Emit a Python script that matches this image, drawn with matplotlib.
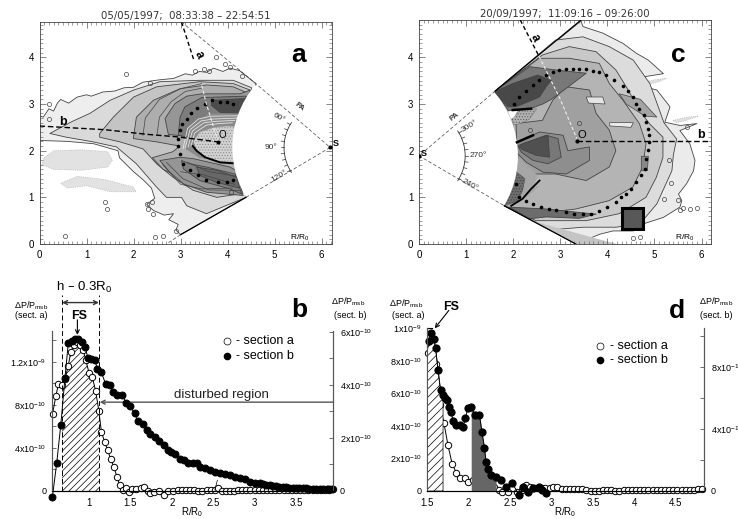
import numpy as np
import matplotlib
matplotlib.use("Agg")
import matplotlib.pyplot as plt
from matplotlib.patches import Polygon, Wedge, Rectangle
from matplotlib.ticker import MultipleLocator

plt.rcParams['font.family'] = ['Liberation Sans', 'DejaVu Sans']
plt.rcParams['mathtext.default'] = 'regular'
plt.rcParams['hatch.linewidth'] = 0.5

# panel a: nested levels, light to dark (R/R0, R/R0)
a_level1 = [(0, 2.75), (.08, 2.72), (.2, 2.9), (.3, 2.85), (.38, 3.02), (.45, 3.1), (.62, 3.02), (.8, 3.15), (1, 3.2), (1.1, 3.17),
            (1.35, 3.26), (1.6, 3.28), (1.8, 3.35), (2.0, 3.36), (2.2, 3.47), (2.55, 3.52), (2.85, 3.55), (3.1, 3.65), (3.25, 3.62),
            (3.4, 3.7), (3.55, 3.68), (3.7, 3.77), (3.9, 3.7), (4.05, 3.77), (4.25, 3.72), (4.6, 3.44),
            (4.39, 1.0), (3.0, .2), (2.9, .3), (2.95, .42), (2.75, .52), (2.85, .65), (2.65, .62), (2.42, .72), (2.28, .85), (2.45, .98),
            (2.38, 1.2), (2.2, 1.38), (2.0, 1.55), (1.7, 1.85), (1.67, 2.0), (1.15, 2.15), (.6, 2.2), (0, 2.22)]
a_level2 = [(.22, 2.37), (.68, 2.62), (1.07, 2.8), (1.5, 3.08), (2.0, 3.3), (2.56, 3.48), (3.41, 3.51), (4.12, 3.51),
            (4.51, 3.35), (4.39, 1.0), (3.55, .65), (3.13, .82), (3.02, 1.0), (2.7, 1.0), (2.49, 1.22), (2.06, 1.72),
            (1.64, 2.08), (1.14, 2.19), (.57, 2.29)]
a_level3 = [(1.28, 2.37), (1.57, 2.72), (2.0, 3.15), (2.49, 3.37), (3.41, 3.48), (4.12, 3.44), (4.48, 3.3), (4.3, 1.08),
            (3.77, 1.0), (3.27, 1.15), (2.84, 1.43), (2.49, 1.72), (2.2, 2.04), (1.71, 2.19), (1.28, 2.29)]
a_level4 = [(2.0, 2.29), (2.06, 2.72), (2.42, 3.08), (2.99, 3.33), (3.55, 3.41), (4.12, 3.37), (4.44, 3.23), (4.23, 1.15),
            (3.55, 1.22), (3.13, 1.36), (2.63, 1.6), (2.4, 1.85), (2.84, 1.98), (2.98, 2.1), (2.49, 2.19), (2, 2.26)]
a_level5_up = [(2.74, 2.35), (2.67, 2.69), (2.88, 3.01), (3.13, 3.17), (3.45, 3.22), (4.26, 3.22), (4.48, 3.3), (4.3, 2.3), (3.2, 2.3)]
a_level5_low = [(2.56, 1.79), (2.99, 1.86), (3.27, 1.83), (4.05, 1.65), (4.19, 1.57), (4.33, 1.04), (3.55, 1.11), (3.06, 1.29), (2.77, 1.54)]
a_level6_up = [(2.95, 2.33), (2.99, 2.72), (3.09, 2.94), (3.45, 3.14), (4.4, 3.17), (4.23, 2.58), (3.84, 2.65), (3.59, 2.72), (3.34, 2.5), (3.16, 2.29)]
a_level6_low = [(3.02, 1.79), (3.2, 1.72), (3.55, 1.65), (4.16, 1.5), (4.3, 1.07), (4.05, 1.18), (3.41, 1.36), (3.06, 1.61)]
a_dark_up = [(3.66, 3.08), (4.4, 3.12), (4.25, 2.8), (3.84, 2.82), (3.66, 2.97)]
a_dark_low = [(3.34, 1.65), (3.77, 1.58), (4.2, 1.43), (4.25, 1.2), (3.77, 1.32), (3.41, 1.47)]
a_core = [(3.27, 2.2), (3.4, 2.4), (3.7, 2.5), (3.98, 2.53), (4.2, 2.52), (4.3, 2.5), (4.3, 1.72), (3.84, 1.75), (3.52, 1.86), (3.34, 2.0)]
a_wind1 = [(.1, 1.85), (.3, 2.0), (.9, 2.02), (1.45, 1.98), (1.55, 1.8), (1.45, 1.65), (.9, 1.58), (.3, 1.6), (.05, 1.7)]
a_wind2 = [(.45, 1.3), (.8, 1.45), (1.4, 1.38), (2.0, 1.22), (2.05, 1.12), (1.5, 1.12), (1.0, 1.25), (.6, 1.2)]
a_ring_x = [[3.22, 3.3, 3.55, 3.8, 4.1], [3.16, 3.25, 3.5, 3.75, 4.15], [3.1, 3.2, 3.44, 3.7, 4.2], [3.05, 3.15, 3.38, 3.64, 4.25]]
a_ring_y = [[2.1, 2.38, 2.55, 2.58, 2.6], [2.08, 2.42, 2.6, 2.63, 2.65], [2.06, 2.45, 2.64, 2.68, 2.7], [2.04, 2.48, 2.68, 2.74, 2.75]]
a_extra_x = [[2.2, 2.25, 2.55, 3.0, 3.45], [2.5, 2.55, 2.8, 3.1, 3.45], [2.62, 3.0, 3.45, 4.1], [3.0, 3.5, 4.15], [2.7, 3.05, 3.6, 4.27], [3.15, 3.6, 4.22]]
a_extra_y = [[2.33, 2.7, 3.1, 3.33, 3.44], [2.35, 2.72, 3.05, 3.27, 3.34], [1.7, 1.28, 1.18, 1.2], [1.55, 1.48, 1.28], [1.75, 1.4, 1.16, 1.15], [1.75, 1.55, 1.45]]
a_front_x = [4.12, 3.98, 3.84, 3.66, 3.52, 3.34, 3.23, 3.13, 3.02, 2.99, 2.95, 2.95, 2.99, 3.06, 3.2, 3.38, 3.55, 3.8, 3.98, 4.12]
a_front_y = [3.01, 3.05, 3.05, 3.08, 3.0, 2.92, 2.8, 2.69, 2.57, 2.44, 2.26, 2.11, 1.92, 1.72, 1.58, 1.47, 1.38, 1.33, 1.33, 1.38]
a_islands_x = [.2, 1.85, 2.35, 2.45, 2.62, 2.9, 2.3, 2.4, 1.4, 1.43, .55, .2, 3.3, 3.5, 3.6, 3.75, 3.95, 4.05, 4.08, 4.3, 2.28, 2.42]
a_islands_y = [2.68, 3.65, 3.45, .14, .18, .28, .75, .9, .9, .75, .18, 3.0, 3.72, 3.75, 3.72, 4.0, 3.85, 3.8, 1.11, 3.6, .85, .65]

# panel c levels
c_level1 = [(3.44, 4.78), (3.48, 4.66), (3.9, 4.52), (4.33, 4.3), (4.61, 4.09), (4.87, 3.94), (5.19, 3.65), (4.76, 3.58), (4.66, 3.4),
            (5.05, 3.3), (5.33, 2.94), (5.22, 2.61), (5.54, 2.54), (5.9, 2.58), (5.54, 2.43), (5.75, 2.15), (5.86, 1.79), (5.83, 1.57),
            (5.68, 1.29), (5.51, 1.07), (5.58, .93), (5.54, .79), (5.19, .57), (4.76, .43), (4.55, .28), (4.12, .28), (3.84, .21), (3.33, 0),
            (1.81, .82), (1.62, 3.28)]
c_level2 = [(2.9, 4.37), (3.48, 4.44), (4.04, 4.23), (4.55, 3.94), (4.9, 3.44), (5.08, 2.94), (5.2, 2.6), (5.47, 2.25), (5.4, 1.9), (5.37, 1.57),
            (5.05, .86), (4.69, .43), (4.18, .36), (3.48, .36), (2.77, .3), (1.81, .82), (1.62, 3.28)]
c_level3 = [(2.62, 4.05), (3.19, 4.23), (3.76, 4.12), (4.18, 3.73), (4.4, 3.37), (4.68, 2.87), (4.89, 2.58), (5.18, 2.29),
            (5.18, 1.86), (5.04, 1.43), (4.82, 1.0), (4.25, .65), (3.55, .5), (2.48, .5), (1.99, .75), (1.81, .82), (1.62, 3.28)]
c_level4 = [(2.55, 3.98), (3.19, 3.98), (3.83, 3.87), (4.04, 3.44), (4.33, 3.08), (4.68, 2.58), (4.82, 2.15), (4.75, 1.65),
            (4.54, 1.22), (4.04, .93), (3.33, .75), (2.48, .65), (1.99, .75), (1.81, .82), (1.62, 3.28)]
c_level5 = [(2.06, 2.58), (2.62, 2.65), (2.84, 3.08), (3.12, 3.37), (3.62, 3.3), (3.76, 2.8), (4.04, 2.44), (4.18, 2.0),
            (4.04, 1.65), (3.55, 1.36), (2.9, 1.5), (2.48, 1.5), (2.13, 1.65), (2.08, 2.0)]
c_mid_up = [(1.62, 3.28), (2.35, 3.8), (2.98, 3.72), (3.55, 3.66), (3.12, 3.33), (2.81, 3.1), (2.63, 3.0), (2.28, 2.87), (1.9, 2.85)]
c_dark_up = [(1.6, 3.26), (1.99, 3.44), (2.52, 3.62), (2.81, 3.51), (2.7, 3.37), (2.56, 3.15), (2.06, 2.94), (1.89, 2.94)]
c_mid_center3 = [(2.06, 2.18), (2.56, 2.4), (3.06, 2.33), (3.16, 2.0), (3.62, 2.08), (3.62, 1.79), (3.13, 1.5), (2.63, 1.54), (2.28, 1.75), (2.06, 1.97)]
c_mid_center2 = [(2.1, 2.11), (2.7, 2.33), (2.95, 2.26), (3.02, 1.86), (2.74, 1.72), (2.42, 1.79), (2.17, 1.97)]
c_dark_center = [(2.13, 2.08), (2.2, 2.15), (2.74, 2.33), (2.77, 1.86), (2.49, 1.9), (2.2, 2.02)]
c_dark_low = [(1.92, .79), (2.7, .75), (3.76, .64), (3.4, .55), (2.7, .58), (2.35, .54)]
c_ellipse1 = [(4.25, 3.22), (4.7, 3.1), (5.05, 2.72), (4.8, 2.74), (4.4, 3.0)]
c_ellipse2 = [(4.05, 2.6), (4.55, 2.6), (4.5, 2.5), (4.05, 2.53)]
c_ellipse3 = [(4.72, 1.88), (4.87, 1.88), (4.85, 1.57), (4.72, 1.57)]
c_ellipse4 = [(3.55, 3.15), (3.9, 3.15), (3.95, 3.0), (3.6, 3.02)]
c_fan = [(2.35, .51), (3.9, .08), (4.2, 0), (3.33, 0)]
c_wave_out = [(2.06, 1.9), (2.42, 1.57), (2.52, 1.47), (2.42, 1.22), (2.56, 1.25), (2.2, .93), (1.96, .82), (1.81, .82)]
c_wave_in = [(2.06, 1.55), (2.25, 1.4), (2.2, 1.15), (2.1, .92), (1.81, .82)]
c_notch_x = [1.89, 2.1, 2.02, 1.95]
c_notch_y = [2.84, 2.88, 2.72, 2.68]
c_shelf = [(1.97, 2.68), (2.15, 2.87), (2.5, 2.9), (2.35, 2.68), (2.15, 2.58), (2.0, 2.55)]
c_wave_x = [1.96, 2.2, 2.38, 2.45, 2.56]
c_wave_y = [.82, .97, 1.18, 1.25, 1.36]
c_front_x = [2.02, 2.13, 2.27, 2.41, 2.55, 2.7, 2.84, 2.98, 3.12, 3.26, 3.4, 3.55, 3.69, 3.83, 3.97, 4.15, 4.33, 4.43, 4.54,
             4.61, 4.68, 4.77, 4.82, 4.86, 4.88, 4.88, 4.86, 4.82, 4.79, 4.72, 4.61, 4.5, 4.4, 4.29, 4.18, 4.0, 3.83, 3.65,
             3.48, 3.3, 3.12, 2.91, 2.77, 2.59, 2.41, 2.27, 2.13, 2.06]
c_front_y = [3.01, 3.15, 3.28, 3.41, 3.51, 3.62, 3.69, 3.73, 3.74, 3.75, 3.75, 3.74, 3.71, 3.69, 3.62, 3.51, 3.38, 3.28, 3.15,
             3.01, 2.9, 2.76, 2.62, 2.47, 2.33, 2.19, 2.01, 1.83, 1.61, 1.47, 1.33, 1.18, 1.08, 1.0, .9, .79, .7, .65,
             .65, .65, .68, .72, .75, .79, .85, .93, 1.0, 1.29]
c_islands_x = [4.55, 4.7, 5.55, 5.6, 5.75, 5.9, 5.5, 5.7, 5.3, 5.35, 3.4, 5.2, 2.35]
c_islands_y = [.12, .16, .72, .78, .76, .78, .95, 2.5, 1.8, 1.3, 2.6, .97, 2.45]
c_wind1 = [(4.7, 3.45), (5.0, 3.52), (5.26, 3.55), (5.1, 3.48), (4.8, 3.4)]
c_wind2 = [(5.4, 2.65), (5.7, 2.72), (5.93, 2.74), (5.65, 2.64), (5.45, 2.6)]

# panel b, units of 1e-10
b_a_R = [.56, .60, .63, .675, .71, .75, .78, .82, .86, .89, .93, .96, 1.0, 1.04, 1.08, 1.12, 1.15, 1.19, 1.225, 1.26, 1.3,
         1.34, 1.37, 1.41, 1.45, 1.48, 1.52, 1.57, 1.63, 1.67, 1.71, 1.74, 1.78, 1.84, 1.9, 1.96, 2.02, 2.07, 2.12, 2.17,
         2.22, 2.27, 2.32, 2.37, 2.42, 2.47, 2.52, 2.56, 2.6, 2.65, 2.7, 2.75, 2.8, 2.85, 2.9, 2.95, 3.0, 3.05, 3.1, 3.15,
         3.2, 3.25, 3.3, 3.35, 3.4, 3.45, 3.5, 3.55, 3.6, 3.65, 3.7, 3.75, 3.8, 3.85, 3.9, 3.94]
b_a_val = [7.17, 8.8, 9.9, 9.8, 10.4, 11.6, 12.9, 13.6, 13.8, 13.6, 13.1, 12.2, 11.0, 10.6, 9.3, 7.4, 5.5, 4.55, 3.8, 3.0, 2.25,
           1.26, .55, .09, .31, -.06, .15, .15, .25, .4, .03, -.22, -.06, .03, -.34, 0, 0, .05, .1, .1, .08, .05, .03, .03, .05,
           .05, .1, .25, .03, .03, .02, .02, .05, .05, .05, .1, .1, .08, .08, .05, .05, .05, .1, .1, .08, .05, .05, .08, .1, .1,
           .08, .05, .1, .1, .1, .15]
b_b_R = [.558, .61, .66, .71, .75, .79, .83, .87, .91, .95, .99, 1.03, 1.07, 1.10, 1.15, 1.20, 1.25, 1.29, 1.34, 1.40, 1.45,
         1.49, 1.55, 1.59, 1.65, 1.70, 1.74, 1.80, 1.84, 1.90, 1.95, 1.99, 2.04, 2.10, 2.15, 2.20, 2.25, 2.30, 2.34, 2.40,
         2.46, 2.52, 2.58, 2.64, 2.70, 2.76, 2.82, 2.88, 2.94, 3.0, 3.06, 3.10, 3.14, 3.18, 3.22, 3.26, 3.30, 3.34, 3.38,
         3.42, 3.46, 3.50, 3.54, 3.58, 3.62, 3.66, 3.70, 3.74, 3.79, 3.83, 3.87, 3.90, 3.93]
b_b_val = [-.24, 1.04, 2.5, 4.26, 5.56, 5.66, 5.74, 5.72, 5.62, 5.44, 5.0, 4.96, 4.95, 4.6, 4.47, 4.04, 4.0, 3.72, 3.62, 3.61, 3.32,
           3.2, 2.94, 2.62, 2.54, 2.31, 2.16, 2.04, 1.87, 1.72, 1.56, 1.47, 1.39, 1.22, 1.16, 1.06, 1.07, 1.06, .91, .88,
           .79, .72, .66, .64, .6, .54, .5, .44, .35, .29, .29, .27, .22, .21, .2, .18, .16, .15, .14, .13, .11, .11, .1,
           .1, .1, .09, .09, .08, .08, .07, .06, .06, .06]

# panel d, units of 1e-10
d_a_R = [1.51, 1.55, 1.61, 1.65, 1.70, 1.75, 1.80, 1.85, 1.90, 1.95, 1.99, 2.05, 2.10, 2.15, 2.20, 2.25, 2.30, 2.36, 2.40, 2.48,
         2.58, 2.64, 2.69, 2.74, 2.79, 2.84, 2.88, 2.92, 2.98, 3.02, 3.07, 3.12, 3.17, 3.22, 3.27, 3.32, 3.37, 3.42, 3.47,
         3.52, 3.57, 3.62, 3.67, 3.72, 3.77, 3.82, 3.87, 3.92, 3.97, 4.02, 4.07, 4.12, 4.17, 4.22, 4.27, 4.32, 4.37, 4.42,
         4.47, 4.52, 4.57, 4.62, 4.67, 4.72, 4.77, 4.82]
d_a_val = [8.5, 8.9, 7.8, 5.3, 4.2, 2.8, 1.67, 1.13, .78, .78, .57, .68, .51, .57, .62, .51, .27, .06, -.04, -.04, -.04, .06, .37,
           .27, .2, .21, .16, .16, .2, .27, .22, .12, .12, .12, .12, .1, .1, .04, .02, -.02, -.02, .04, .06, .06, 0, 0, .08, .06,
           .06, .08, .08, .08, .04, .04, .06, .06, .06, .06, .04, .04, .04, .04, .04, .06, .1, .1]
d_b_R = [1.52, 1.55, 1.58, 1.60, 1.63, 1.66, 1.69, 1.71, 1.74, 1.76, 1.79, 1.81, 1.85, 1.89, 1.93, 1.96, 1.99, 2.03, 2.08, 2.13,
         2.16, 2.19, 2.21, 2.23, 2.27, 2.33, 2.39, 2.45, 2.52, 2.61, 2.65, 2.71, 2.77, 2.85, 2.89, 2.93]
d_b_val = [9.7, 10.2, 9.8, 9.2, 7.8, 6.5, 6.2, 6.0, 5.9, 5.4, 5.1, 4.5, 4.25, 4.23, 4.1, 4.7, 5.35, 5.45, 4.9, 4.9,
           3.8, 2.8, 1.85, 1.4, 1.03, .93, .71, .28, .54, -.26, .28, -.04, .17, .28, .06, -.15]

a_title = "05/05/1997;  08:33:38 \u2013 22:54:51"
c_title = "20/09/1997;  11:09:16 \u2013 09:26:00"
b_yt = [0, 4, 8, 12]
b_yt_labels = ["0", "4x10$^{-10}$", "8x10$^{-10}$", "1.2x10$^{-9}$"]
b_rt = [0, 2, 4, 6]
b_rt_labels = ["0", "2x10$^{-10}$", "4x10$^{-10}$", "6x10$^{-10}$"]
d_yt = [0, 2, 4, 6, 8, 10]
d_yt_labels = ["0", "2x10$^{-10}$", "4x10$^{-10}$", "6x10$^{-10}$", "8x10$^{-10}$", "1x10$^{-9}$"]
d_rt = [0, 4, 8]
d_rt_labels = ["0", "4x10$^{-1}$", "8x10$^{-1}$"]

W, H = 738, 519
fig = plt.figure(figsize=(W / 100, H / 100), dpi=100)


def panel(x0, x1, top, bottom):
    return fig.add_axes([x0 / W, 1 - bottom / H, (x1 - x0) / W, (bottom - top) / H])


def figtext(x, y, s, **kw):
    kw.setdefault('ha', 'center')
    kw.setdefault('va', 'center')
    fig.text(x / W, 1 - y / H, s, **kw)


def fill_levels(ax, levels, colors):
    for pts, col in zip(levels, colors):
        ax.add_patch(Polygon(pts, closed=True, fc=col, ec='#444444', lw=0.6, joinstyle='round'))


def style_map(ax, xlim, ylim, title):
    ax.set_xlim(xlim)
    ax.set_ylim(ylim)
    ax.xaxis.set_major_locator(MultipleLocator(1))
    ax.xaxis.set_minor_locator(MultipleLocator(0.1))
    ax.yaxis.set_major_locator(MultipleLocator(1))
    ax.yaxis.set_minor_locator(MultipleLocator(0.1))
    ax.tick_params(which='major', direction='in', top=True, right=True, length=4, width=0.5, labelsize=7, color='#555555', pad=4)
    ax.tick_params(which='minor', direction='in', top=True, right=True, length=2, width=0.4, color='#555555')
    for s in ax.spines.values():
        s.set_linewidth(0.6)
        s.set_color('#444444')
    ax.set_title(title, fontsize=7.3, pad=2, color='#333333', family=['DejaVu Sans'])


def pa_arc(ax, sx, sy, center_deg, labels, side):
    # PA scale drawn around S, r = 0.98
    th = np.radians(np.arange(center_deg - 33, center_deg + 33.1, 1))
    ax.plot(sx + 0.98 * np.cos(th), sy + 0.98 * np.sin(th), color='#333333', lw=0.6)
    for d in np.arange(center_deg - 30, center_deg + 30.1, 7.5):
        t = np.radians(d)
        ax.plot([sx + 0.98 * np.cos(t), sx + 1.05 * np.cos(t)], [sy + 0.98 * np.sin(t), sy + 1.05 * np.sin(t)],
                color='#333333', lw=0.5)
    for d, s in zip([center_deg - 30, center_deg, center_deg + 30], labels):
        t = np.radians(d)
        rot = (d - 180) if side < 0 else d
        ax.text(sx + 1.25 * np.cos(t), sy + 1.25 * np.sin(t), s, fontsize=6, ha='center', va='center',
                rotation=rot if d != center_deg else 0, color='#333333')


# ---- panel a
ax_a = panel(39.5, 332, 22, 244)
style_map(ax_a, (0, 6.22), (0, 4.76), a_title)
for w in (a_wind1, a_wind2):
    ax_a.add_patch(Polygon(w, closed=True, fc='#e2e2e2', ec='#aaaaaa', lw=0.5, ls=':'))
fill_levels(ax_a, [a_level1, a_level2, a_level3, a_level4, a_level5_up, a_level5_low, a_level6_up, a_level6_low, a_dark_up, a_dark_low],
            ['#eeeeee', '#dadada', '#c4c4c4', '#aeaeae', '#969696', '#969696', '#7c7c7c', '#808080', '#4c4c4c', '#686868'])
for rx, ry in zip(a_extra_x, a_extra_y):
    ax_a.plot(rx, ry, color='#444444', lw=0.5)
ax_a.add_patch(Polygon([(3.1, 2.04), (3.2, 2.5), (3.6, 2.8), (4.3, 2.8), (4.3, 1.72), (3.4, 1.85)], closed=True, fc='#8a8a8a', ec='none'))
for rx, ry in zip(a_ring_x, a_ring_y):
    ax_a.plot(rx, ry, color='#e4e4e4', lw=0.6)
ax_a.add_patch(Polygon(a_core, closed=True, fc='#d2d2d2', ec='#8c8c8c', lw=0.3, hatch='......'))
ax_a.plot([3.26, 3.34, 3.52, 3.84, 4.3], [2.1, 2.0, 1.86, 1.75, 1.72], color='black', lw=1.4)
ax_a.add_patch(Wedge((6.18, 2.07), 2.08, 140, 220, fc='white', ec='none', zorder=2))
ax_a.plot(a_islands_x, a_islands_y, 'o', mfc='none', mec='#444444', ms=3, mew=0.5, zorder=3)
ax_a.plot(a_front_x, a_front_y, 'o', color='black', ms=2.6, mew=0, zorder=4)
ax_a.plot([3.02, 3.28], [4.76, 3.95], color='black', lw=1, ls=(0, (3, 2)), zorder=4)
ax_a.plot([3.45, 3.55, 3.8], [3.4, 3.0, 2.19], color='#eeeeee', lw=0.8, ls=(0, (3, 2)), zorder=4)
ax_a.plot([0, 1.4, 2.3], [2.53, 2.45, 2.35], color='black', lw=1, ls=(0, (4, 2)), zorder=4)
ax_a.plot([2.3, 2.9, 3.8], [2.35, 2.3, 2.19], color='black', lw=1, ls=(0, (4, 2)), zorder=4)
ax_a.plot([3.02, 4.6, 6.18, 4.39], [4.76, 3.44, 2.07, 1.0], color='#444444', lw=0.5, ls=(0, (5, 3)), zorder=4)
ax_a.plot([4.39, 3.0], [1.0, .2], color='black', lw=0.9, zorder=4)
ax_a.plot([3.0, 2.7], [.2, 0], color='#444444', lw=0.5, ls=(0, (5, 3)), zorder=4)
ax_a.plot([3.8, 6.18], [2.19, 2.07], 'o', color='black', ms=3, mew=0, zorder=5)
pa_arc(ax_a, 6.18, 2.07, 180, ["60\u00b0", "90\u00b0", "120\u00b0"], -1)
ax_a.text(5.53, 2.93, "PA", fontsize=5.5, rotation=-38, ha='center', va='center', weight='bold', color='#333333')
ax_a.text(6.3, 2.16, "S", fontsize=6.5, ha='center', va='center', weight='bold')
ax_a.text(3.89, 2.33, "O", fontsize=7, ha='center', va='center', zorder=5)
ax_a.text(3.39, 4.06, "a", fontsize=8.5, rotation=-65, ha='center', va='center', weight='bold', zorder=5)
ax_a.text(.5, 2.62, "b", fontsize=9, ha='center', va='center', weight='bold', zorder=5)
ax_a.text(5.53, .14, "R/R$_0$", fontsize=6, ha='center', va='center')
ax_a.text(5.5, 4.06, "a", fontsize=19, ha='center', va='center', weight='bold')

# ---- panel c
ax_c = panel(419, 711, 20, 244)
style_map(ax_c, (0, 6.2), (0, 4.8), c_title)
for w in (c_wind1, c_wind2):
    ax_c.add_patch(Polygon(w, closed=True, fc='#e0e0e0', ec='#aaaaaa', lw=0.5, ls=':'))
fill_levels(ax_c, [c_level1, c_level2, c_level3, c_level4, c_level5, c_mid_up, c_dark_up, c_mid_center3, c_mid_center2, c_dark_center, c_dark_low],
            ['#ebebeb', '#dcdcdc', '#c8c8c8', '#b4b4b4', '#a0a0a0', '#787878', '#484848', '#8e8e8e', '#787878', '#505050', '#6c6c6c'])
for w, col in zip([c_ellipse1, c_ellipse2, c_ellipse3, c_ellipse4], ['#a4a4a4', '#ececec', '#888888', '#e4e4e4']):
    ax_c.add_patch(Polygon(w, closed=True, fc=col, ec='#444444', lw=0.5))
ax_c.add_patch(Polygon(c_wave_out, closed=True, fc='#a6a6a6', ec='none', hatch='......'))
ax_c.add_patch(Polygon(c_wave_in, closed=True, fc='#6e6e6e', ec='#444444', lw=0.3, hatch='......'))
ax_c.add_patch(Polygon(c_shelf, closed=True, fc='#b0b0b0', ec='#666666', lw=0.3, hatch='......'))
ax_c.add_patch(Polygon(c_fan, closed=True, fc='#c4c4c4', ec='none', hatch='......'))
ax_c.fill(c_notch_x, c_notch_y, color='white', lw=0, zorder=3)
ax_c.add_patch(Wedge((0, 1.89), 2.1, -42, 42, fc='white', ec='none', zorder=2))
ax_c.plot(c_wave_x, c_wave_y, color='black', lw=1.3, zorder=3)
ax_c.plot([1.99, 2.38], [2.87, 2.9], color='black', lw=1.8, zorder=3)
ax_c.plot([2.08, 2.42], [2.18, 2.33], color='black', lw=1.8, zorder=3)
ax_c.plot(c_islands_x, c_islands_y, 'o', mfc='none', mec='#444444', ms=3, mew=0.5, zorder=3)
ax_c.plot(c_front_x, c_front_y, 'o', color='black', ms=2.6, mew=0, zorder=4)
ax_c.plot([2.15, 2.55], [4.8, 4.02], color='black', lw=1, ls=(0, (3, 2)), zorder=4)
ax_c.plot([2.55, 3.0, 3.35], [4.02, 3.1, 2.26], color='#eeeeee', lw=0.8, ls=(0, (3, 2)), zorder=4)
ax_c.plot([3.35, 6.2], [2.2, 2.2], color='black', lw=1, ls=(0, (4, 2)), zorder=4)
ax_c.plot([1.62, 3.44], [3.28, 4.8], color='black', lw=0.9, zorder=4)
ax_c.plot([1.81, 3.33], [.82, 0], color='black', lw=0.9, zorder=4)
ax_c.plot([1.62, 0, 1.81], [3.28, 1.89, .82], color='#444444', lw=0.5, ls=(0, (5, 3)), zorder=4)
ax_c.plot([3.35, 0], [2.2, 1.89], 'o', color='black', ms=3, mew=0, zorder=5)
pa_arc(ax_c, 0, 1.89, 0, ["240\u00b0", "270\u00b0", "300\u00b0"], 1)
ax_c.text(.75, 2.72, "PA", fontsize=5.5, rotation=38, ha='center', va='center', weight='bold', color='#333333')
ax_c.text(.1, 1.95, "S", fontsize=6.5, ha='center', va='center', weight='bold')
ax_c.text(3.45, 2.33, "O", fontsize=8, ha='center', va='center', zorder=5)
ax_c.text(2.45, 4.42, "a", fontsize=8.5, rotation=-65, ha='center', va='center', weight='bold', zorder=5)
ax_c.text(5.98, 2.33, "b", fontsize=9, ha='center', va='center', weight='bold', zorder=5)
ax_c.text(5.65, .14, "R/R$_0$", fontsize=6, ha='center', va='center')
ax_c.text(5.5, 4.06, "c", fontsize=19, ha='center', va='center', weight='bold')
ax_c.add_patch(Rectangle((4.3, .32), .45, .45, fc='#585858', ec='black', lw=2.2, zorder=5))


def style_profile(ax, axr, xlim, ylim_l, ylim_r, lt, ltl, rt, rtl, xt):
    ax.set_xlim(xlim)
    ax.set_ylim(ylim_l)
    axr.set_ylim(ylim_r)
    ax.set_xticks(xt)
    ax.set_xticklabels([f"{v:g}" for v in xt], fontsize=7)
    ax.set_yticks(lt)
    ax.set_yticklabels(ltl, fontsize=6.5)
    ax.yaxis.set_minor_locator(MultipleLocator((lt[1] - lt[0]) / 2))
    axr.set_yticks(rt)
    axr.set_yticklabels(rtl, fontsize=6.5)
    axr.yaxis.set_minor_locator(MultipleLocator((rt[1] - rt[0]) / 2))
    ax.tick_params(axis='x', length=0, pad=5)
    ax.tick_params(axis='y', which='both', direction='in', length=3, width=0.6, color='#555555', pad=4)
    axr.tick_params(axis='y', which='both', direction='in', length=3, width=0.6, color='#555555', pad=5)
    for a in (ax, axr):
        a.spines['top'].set_visible(False)
        a.spines['left'].set_color('#555555')
        a.spines['right'].set_color('#555555')
        a.patch.set_visible(False)
    ax.set_xlabel("R/R$_0$", fontsize=7, labelpad=-2)


def curve(ax, x, y, open_marker, ms=4.6):
    ax.plot(x, y, '-o', color='black', lw=0.7, ms=ms, mfc='white' if open_marker else 'black', mec='black', mew=0.7, clip_on=False)


# ---- panel b
ax_b = panel(51.7, 333, 331, 491)
ax_br = ax_b.twinx()
style_profile(ax_b, ax_br, (.55, 3.946), (0, 14.86), (0, 6.03), b_yt, b_yt_labels, b_rt, b_rt_labels, [1, 1.5, 2, 2.5, 3, 3.5])
r_a = np.array(b_a_R)
v_a = np.array(b_a_val)
mask = (r_a >= .675) & (r_a <= 1.12)
ax_b.fill_between(r_a[mask], 0, v_a[mask], facecolor='white', edgecolor='black', hatch='/////', lw=0)
curve(ax_b, b_a_R, b_a_val, True)
curve(ax_br, b_b_R, b_b_val, False, ms=5)
for xv in (.675, 1.12):
    ax_b.plot([xv, xv], [0, 18.2], color='black', lw=0.7, ls=(0, (5, 3)), clip_on=False)
ax_b.annotate("", xy=(.675, 17.5), xytext=(1.12, 17.5), annotation_clip=False,
              arrowprops=dict(arrowstyle='<->', color='#333333', lw=1, shrinkA=0, shrinkB=0, mutation_scale=7))
ax_b.annotate("", xy=(.86, 14.5), xytext=(.86, 15.9), annotation_clip=False,
              arrowprops=dict(arrowstyle='->', color='black', lw=0.8, shrinkA=0, shrinkB=0, mutation_scale=7))
ax_b.annotate("", xy=(1.13, 8.25), xytext=(3.946, 8.25), annotation_clip=False,
              arrowprops=dict(arrowstyle='->', color='#555555', lw=1, shrinkA=0, shrinkB=0, mutation_scale=7))
ax_b.plot([2.52, 2.55], [.1, 1.0], color='black', lw=0.5)
ax_b.text(2.6, 8.95, "disturbed region", fontsize=9.5, ha='center', va='center', color='#222222')
figtext(84, 287, "h \u2013 0.3R$_0$", fontsize=9.5)
figtext(79, 316, "FS", fontsize=9, weight='bold')
figtext(31, 306, "\u0394P/P$_{msb}$", fontsize=6.5)
figtext(31, 316, "(sect. a)", fontsize=6.5)
figtext(348, 302, "\u0394P/P$_{msb}$", fontsize=6.5)
figtext(350, 316, "(sect. b)", fontsize=6.5)
figtext(299, 310, "b", fontsize=19, weight='bold')
ax_b.plot([2.67], [13.9], 'o', ms=5, mfc='white', mec='black', mew=0.5)
ax_b.plot([2.67], [12.5], 'o', ms=5.5, color='black', mew=0)
ax_b.text(2.78, 13.9, "- section a", fontsize=9, va='center')
ax_b.text(2.78, 12.5, "- section b", fontsize=9, va='center')

# ---- panel d
ax_d = panel(427.3, 704, 328.3, 491)
ax_dr = ax_d.twinx()
style_profile(ax_d, ax_dr, (1.5, 4.84), (0, 10), (0, 10.5), d_yt, d_yt_labels, d_rt, d_rt_labels, [1.5, 2, 2.5, 3, 3.5, 4, 4.5])
r_b = np.array(d_b_R)
v_b = np.array(d_b_val)
m1 = r_b <= 1.69
ax_dr.fill_between(np.r_[1.5, r_b[m1]], 0, np.r_[9.0, v_b[m1]], facecolor='white', edgecolor='black', hatch='////', lw=0.5)
m2 = (r_b >= 2.03) & (r_b <= 2.33)
ax_dr.fill_between(r_b[m2], 0, v_b[m2], color='#666666', lw=0)
curve(ax_d, d_a_R, d_a_val, True)
curve(ax_dr, d_b_R, d_b_val, False, ms=5.2)
ax_d.plot([1.5, 1.5, 1.56], [10, 10, 10], color='black', lw=0.8, clip_on=False)
ax_d.annotate("", xy=(1.59, 10), xytext=(1.76, 11.1), annotation_clip=False,
              arrowprops=dict(arrowstyle='->', color='black', lw=0.8, shrinkA=0, shrinkB=0, mutation_scale=7))
figtext(451, 307, "FS", fontsize=9, weight='bold')
figtext(406, 304, "\u0394P/P$_{msb}$", fontsize=6.5)
figtext(408, 316, "(sect. a)", fontsize=6.5)
figtext(716, 302, "\u0394P/P$_{msb}$", fontsize=6.5)
figtext(716, 316, "(sect. b)", fontsize=6.5)
figtext(677, 311, "d", fontsize=19, weight='bold')
ax_d.plot([3.58], [8.94], 'o', ms=5, mfc='white', mec='black', mew=0.5)
ax_d.plot([3.58], [8.06], 'o', ms=5.5, color='black', mew=0)
ax_d.text(3.7, 8.94, "- section a", fontsize=9, va='center')
ax_d.text(3.7, 8.06, "- section b", fontsize=9, va='center')

fig.savefig("out.png", dpi=100)
